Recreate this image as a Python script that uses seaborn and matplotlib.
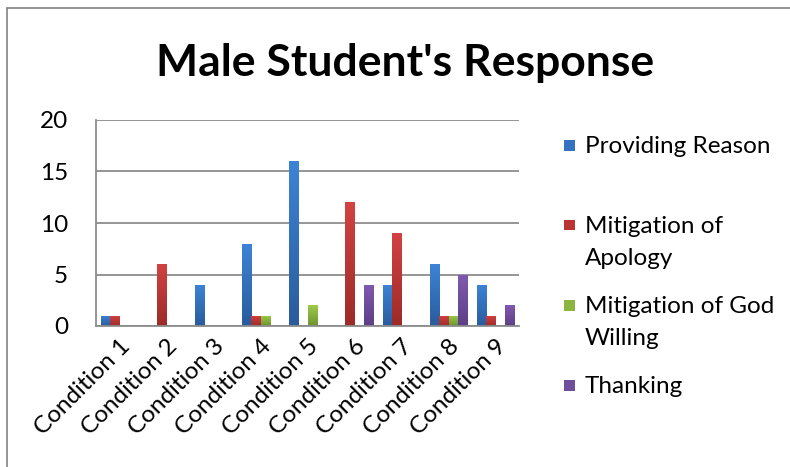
import matplotlib
matplotlib.use("Agg")
import matplotlib.pyplot as plt
import seaborn as sns
import numpy as np
import pandas as pd
from matplotlib.patches import Rectangle
from matplotlib.lines import Line2D
from matplotlib.colors import LinearSegmentedColormap

categories = ["Condition 1", "Condition 2", "Condition 3", "Condition 4", "Condition 5",
              "Condition 6", "Condition 7", "Condition 8", "Condition 9"]
providing_reason = [1, 0, 4, 8, 16, 0, 4, 6, 4]
mitigation_apology = [1, 6, 0, 1, 0, 12, 9, 1, 1]
mitigation_god_willing = [0, 0, 0, 1, 2, 0, 0, 1, 0]
thanking = [0, 0, 0, 0, 0, 4, 0, 5, 2]
series_names = ["Providing Reason", "Mitigation of Apology", "Mitigation of God Willing", "Thanking"]
legend_labels = ["Providing Reason", "Mitigation of\nApology", "Mitigation of God\nWilling", "Thanking"]
yticks = [0, 5, 10, 15, 20]
title = "Male Student's Response"

colors = ["#3572C2", "#BA3431", "#8BB540", "#6F4F9B"]
grad_top = ["#3D84D6", "#D34242", "#9ECB4C", "#8259B0"]
grad_bot = ["#2A5B9C", "#9C2B28", "#6E9230", "#5C3F86"]

rows = []
for name, vals in zip(series_names, [providing_reason, mitigation_apology, mitigation_god_willing, thanking]):
    for c, v in zip(categories, vals):
        rows.append({"Condition": c, "Series": name, "Value": v})
df = pd.DataFrame(rows)

sns.set_theme(style="white")
plt.rcParams["font.family"] = ["Lato", "DejaVu Sans"]
plt.rcParams["text.color"] = "black"
plt.rcParams["xtick.color"] = "black"
plt.rcParams["ytick.color"] = "black"

fig = plt.figure(figsize=(7.9, 4.67), dpi=100)
ax = fig.add_axes([96/790, 1-326/467, (519-96)/790, (326-120)/467])

sns.barplot(data=df, x="Condition", y="Value", hue="Series", palette=colors,
            width=0.8, ax=ax, legend=False, saturation=1, linewidth=0)

# vertical gradient fill on each bar, clipped to the bar drawn by seaborn
grad = np.linspace(1, 0, 256).reshape(-1, 1)
for cont, top, bot in zip(ax.containers, grad_top, grad_bot):
    cmap = LinearSegmentedColormap.from_list("g", [bot, top])
    for bar in cont:
        h = bar.get_height()
        if h <= 0:
            continue
        x0 = bar.get_x()
        w = bar.get_width()
        im = ax.imshow(grad, extent=[x0, x0 + w, 0, h], aspect="auto", cmap=cmap,
                       vmin=0, vmax=1, zorder=bar.get_zorder() + 0.1, interpolation="bilinear")
        im.set_clip_path(bar)

ax.set_ylim(0, 20)
ax.set_xlim(-0.5, len(categories)-0.5)
ax.set_aspect("auto")
ax.set_yticks(yticks)
ax.set_yticklabels([str(t) for t in yticks], fontsize=17.5)
ax.yaxis.grid(True, color="#8c8c8c", linewidth=1.3)
ax.set_axisbelow(True)
for s in ["top", "right"]:
    ax.spines[s].set_visible(False)
for s in ["left", "bottom"]:
    ax.spines[s].set_color("#8c8c8c")
    ax.spines[s].set_linewidth(1.3)
ax.tick_params(axis="y", length=0, pad=20)
ax.tick_params(axis="x", length=0, pad=7)
ax.set_xticks(range(len(categories)))
ax.set_xticklabels(categories, rotation=45, ha="right", rotation_mode="anchor", fontsize=17.5)
ax.set_xlabel("")
ax.set_ylabel("")

fig.text(405/790, 1-63/467, title, ha="center", va="center", fontsize=32, fontweight="bold")

# legend drawn manually to match wrapped labels with marker on first line
leg_y = [145, 225, 305, 385]
for lab, col, y in zip(legend_labels, colors, leg_y):
    fig.patches.append(Rectangle((564/790, 1-(y+5.5)/467), 11/790, 11/467,
                                 transform=fig.transFigure, facecolor=col, edgecolor="none"))
    fig.text(585/790, 1-(y-9)/467, lab, ha="left", va="top", fontsize=17.5, linespacing=1.62)

# chart border
fig.add_artist(Line2D([7/790, 7/790], [0, 1-8/467], transform=fig.transFigure, color="#8c8c8c", linewidth=1.3))
fig.add_artist(Line2D([7/790, 1], [1-8/467, 1-8/467], transform=fig.transFigure, color="#8c8c8c", linewidth=1.3))

fig.savefig("out.png", dpi=100)
